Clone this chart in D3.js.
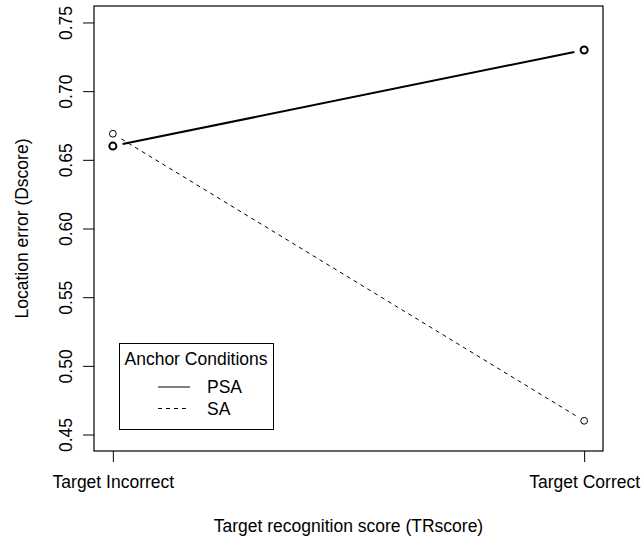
<!DOCTYPE html>
<html>
<head>
<meta charset="utf-8">
<script src="https://cdn.jsdelivr.net/npm/d3@7"></script>
<style>
  body { margin: 0; background: #fff; }
  svg text { font-family: "Liberation Sans", Arial, Helvetica, sans-serif; fill: #000; }
</style>
</head>
<body>
<svg id="chart" width="643" height="540"></svg>
<script>
// chart values
var conditions = ["Target Incorrect", "Target Correct"];
var psaValues = [0.66, 0.73];
var saValues = [0.669, 0.46];
var yTickValues = [0.45, 0.50, 0.55, 0.60, 0.65, 0.70, 0.75];
var seriesNames = ["PSA", "SA"];

var svg = d3.select("#chart");
var fs = 17.5;

var plot = { left: 94, right: 603, top: 6, bottom: 451 };

var x = d3.scaleLinear()
    .domain([0.96, 2.04])
    .range([plot.left, plot.right]);

var y = d3.scaleLinear()
    .domain([0.438, 0.762])
    .range([plot.bottom, plot.top]);

// axes (R style: ticks outside, labels rotated on y)
var xAxis = d3.axisBottom(x)
    .tickValues([1, 2])
    .tickSize(11)
    .tickFormat(function(d) { return conditions[d - 1]; });

var gx = svg.append("g")
    .attr("transform", "translate(0," + plot.bottom + ")")
    .call(xAxis);
gx.select(".domain").remove();
gx.selectAll("line").attr("stroke", "#000");
gx.selectAll("text").attr("font-size", fs).attr("dy", 0).attr("y", 37);

var yAxis = d3.axisLeft(y)
    .tickValues(yTickValues)
    .tickSize(11)
    .tickFormat(d3.format(".2f"));

var gy = svg.append("g")
    .attr("transform", "translate(" + plot.left + ",0)")
    .call(yAxis);
gy.select(".domain").remove();
gy.selectAll("line").attr("stroke", "#000");
gy.selectAll("text")
    .attr("font-size", fs)
    .attr("x", null).attr("dy", null)
    .attr("text-anchor", "middle")
    .attr("transform", "translate(-22,0) rotate(-90)");

// box
svg.append("rect")
    .attr("x", plot.left).attr("y", plot.top)
    .attr("width", plot.right - plot.left)
    .attr("height", plot.bottom - plot.top)
    .attr("fill", "none")
    .attr("stroke", "#000")
    .attr("stroke-width", 1.2);

// axis titles
svg.append("text")
    .attr("x", (plot.left + plot.right) / 2)
    .attr("y", 532)
    .attr("text-anchor", "middle")
    .attr("font-size", fs)
    .text("Target recognition score (TRscore)");

svg.append("text")
    .attr("transform", "translate(28," + (plot.top + plot.bottom) / 2 + ") rotate(-90)")
    .attr("text-anchor", "middle")
    .attr("font-size", fs)
    .text("Location error (Dscore)");

// type = "b": segments with gaps round the points
function drawSeries(values, width, dash) {
    var pts = values.map(function(v, i) { return [x(i + 1), y(v)]; });
    var gap = 10;
    for (var i = 0; i < pts.length - 1; i++) {
        var a = pts[i], b = pts[i + 1];
        var dx = b[0] - a[0], dy = b[1] - a[1];
        var len = Math.sqrt(dx * dx + dy * dy);
        var ux = dx / len, uy = dy / len;
        svg.append("line")
            .attr("x1", a[0] + ux * gap).attr("y1", a[1] + uy * gap)
            .attr("x2", b[0] - ux * gap).attr("y2", b[1] - uy * gap)
            .attr("stroke", "#000")
            .attr("stroke-width", width)
            .attr("stroke-dasharray", dash);
    }
    svg.selectAll(null)
        .data(pts)
        .enter().append("circle")
        .attr("cx", function(d) { return d[0]; })
        .attr("cy", function(d) { return d[1]; })
        .attr("r", width > 1 ? 3.5 : 3.4)
        .attr("fill", "none")
        .attr("stroke", "#000")
        .attr("stroke-width", width);
}

drawSeries(saValues, 1, "4,4");
drawSeries(psaValues, 2, null);

// legend
var leg = svg.append("g");
leg.append("rect")
    .attr("x", 119.5).attr("y", 343.5)
    .attr("width", 154).attr("height", 86)
    .attr("fill", "#fff")
    .attr("stroke", "#000");
leg.append("text")
    .attr("x", 196).attr("y", 365)
    .attr("text-anchor", "middle")
    .attr("font-size", fs)
    .text("Anchor Conditions");

var legDash = [null, "4,4"];
seriesNames.forEach(function(name, i) {
    var ly = 387 + i * 21.5;
    leg.append("line")
        .attr("x1", 158).attr("x2", 190)
        .attr("y1", ly).attr("y2", ly)
        .attr("stroke", "#000")
        .attr("stroke-dasharray", legDash[i]);
    leg.append("text")
        .attr("x", 207).attr("y", ly + 6)
        .attr("font-size", fs)
        .text(name);
});
</script>
</body>
</html>
